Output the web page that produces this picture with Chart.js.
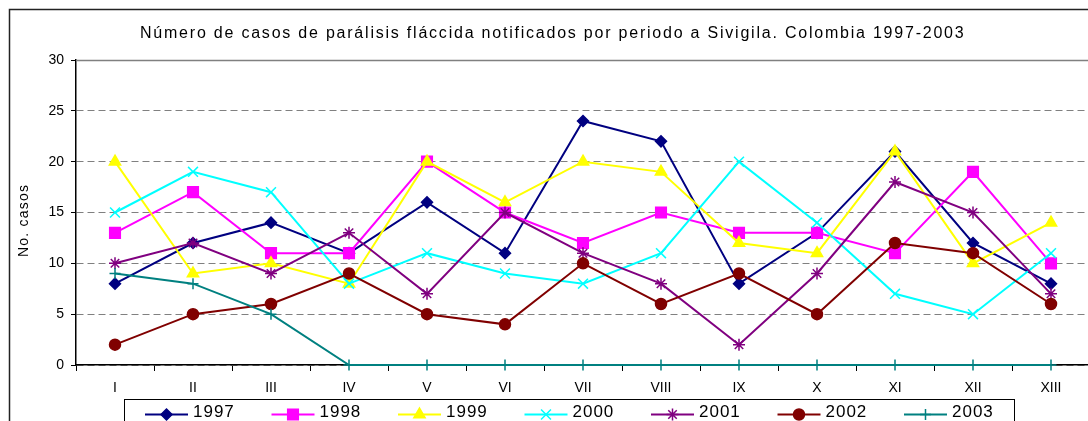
<!DOCTYPE html>
<html><head><meta charset="utf-8">
<script src="https://cdn.jsdelivr.net/npm/chart.js"></script>
<style>
html,body{margin:0;padding:0;background:#fff;overflow:hidden;}
#wrap{width:1088px;height:421px;overflow:hidden;position:relative;}
canvas{display:block;}
</style></head>
<body>
<div id="wrap"><canvas id="c" width="1110" height="440" style="width:1110px;height:440px"></canvas></div>
<script>
const titleText = 'Número de casos de parálisis fláccida notificados por periodo a Sivigila. Colombia 1997-2003';
const yAxisTitle = 'No. casos';
const periods = ['I','II','III','IV','V','VI','VII','VIII','IX','X','XI','XII','XIII'];
const yTicks = [0,5,10,15,20,25,30];
const years = ['1997','1998','1999','2000','2001','2002','2003'];
const s1997 = [8,12,14,11,16,11,24,22,8,13,21,12,8];
const s1998 = [13,17,11,11,20,15,12,15,13,13,11,19,10];
const s1999 = [20,9,10,8,20,16,20,19,12,11,21,10,14];
const s2000 = [15,19,17,8,11,9,8,11,20,14,7,5,11];
const s2001 = [10,12,9,13,7,15,11,8,2,9,18,15,7];
const s2002 = [2,5,6,9,5,4,10,6,9,5,12,11,6];
const s2003 = [9,8,5,0,0,0,0,0,0,0,0,0,0];
const seriesData = [s1997,s1998,s1999,s2000,s2001,s2002,s2003];
const colors = ['#000080','#FF00FF','#FFFF00','#00FFFF','#800080','#800000','#008080'];
const markers = ['rectRot','rect','triangle','crossRot','star','circle','cross'];
const radii = [5.5,7.5,6.5,7,6,5.5,5.5];

const FONT = '"Liberation Sans", Arial, sans-serif';

const datasets = years.map((y,i)=>({
  label: y,
  data: seriesData[i],
  borderColor: colors[i],
  backgroundColor: colors[i],
  borderWidth: 2,
  pointStyle: markers[i],
  pointRadius: radii[i],
  pointBorderWidth: 1.5,
  pointBackgroundColor: colors[i],
  pointBorderColor: colors[i],
  tension: 0,
  clip: false,
  order: years.length - i
}));

function fallbackPoint(ctx, style, r, x, y){
  ctx.beginPath();
  if (style==='circle'){ctx.arc(x,y,r,0,Math.PI*2);ctx.fill();return;}
  if (style==='rect'){const h=r*Math.SQRT1_2;ctx.fillRect(x-h,y-h,2*h,2*h);return;}
  if (style==='rectRot'){ctx.moveTo(x-r,y);ctx.lineTo(x,y-r);ctx.lineTo(x+r,y);ctx.lineTo(x,y+r);ctx.closePath();ctx.fill();return;}
  if (style==='triangle'){ctx.moveTo(x,y-r);ctx.lineTo(x+r*0.866,y+r*0.5);ctx.lineTo(x-r*0.866,y+r*0.5);ctx.closePath();ctx.fill();return;}
  const d=r*Math.SQRT1_2;
  if (style==='cross'||style==='star'){ctx.moveTo(x-r,y);ctx.lineTo(x+r,y);ctx.moveTo(x,y-r);ctx.lineTo(x,y+r);}
  if (style==='crossRot'||style==='star'){ctx.moveTo(x-d,y-d);ctx.lineTo(x+d,y+d);ctx.moveTo(x+d,y-d);ctx.lineTo(x-d,y+d);}
  ctx.stroke();
}

function spacedText(ctx, text, cx, y, targetW){
  const w0=ctx.measureText(text).width;
  const has=('letterSpacing' in ctx);
  const ls=has?Math.max(0,(targetW-w0)/(text.length-1)):0;
  if (has) ctx.letterSpacing=ls.toFixed(2)+'px';
  const w1=w0+ls*(text.length-1);
  ctx.textAlign='left';
  ctx.fillText(text,cx-w1/2,y);
  if (has) ctx.letterSpacing='0px';
}

const deco = {
  id:'deco',
  beforeDraw(chart){
    const ctx=chart.ctx;
    ctx.save();ctx.fillStyle='#fff';ctx.fillRect(0,0,chart.width,chart.height);ctx.restore();
  },
  beforeDatasetsDraw(chart){
    const ctx=chart.ctx, a=chart.chartArea;
    ctx.save();
    ctx.strokeStyle='#808080';ctx.lineWidth=1.5;
    ctx.beginPath();ctx.moveTo(a.left,a.top+0.5);ctx.lineTo(a.right,a.top+0.5);ctx.stroke();
    ctx.restore();
  },
  afterDraw(chart){
    const ctx=chart.ctx;
    ctx.save();
    // outer frame
    ctx.strokeStyle='#222';ctx.lineWidth=1.5;
    ctx.strokeRect(9.5,9.5,1300,1000);
    // title
    ctx.fillStyle='#000';
    ctx.font='16px '+FONT;
    ctx.textBaseline='alphabetic';
    spacedText(ctx,titleText,552,37.5,824);
    // y axis title
    ctx.save();
    ctx.translate(28,221);
    ctx.rotate(-Math.PI/2);
    ctx.font='14px '+FONT;
    ctx.fillStyle='#000';
    spacedText(ctx,yAxisTitle,0,0,72);
    ctx.restore();
    // legend box
    ctx.strokeStyle='#000';ctx.lineWidth=1;
    ctx.strokeRect(124.5,399.5,890,60);
    chart.data.datasets.forEach((ds,i)=>{
      const x0=145+i*126.5, yl=414.5;
      ctx.strokeStyle=ds.borderColor;ctx.lineWidth=2;
      ctx.beginPath();ctx.moveTo(x0,yl);ctx.lineTo(x0+43,yl);ctx.stroke();
      ctx.fillStyle=ds.pointBackgroundColor;ctx.strokeStyle=ds.pointBorderColor;ctx.lineWidth=1.5;
      if (Chart.helpers && Chart.helpers.drawPoint){
        Chart.helpers.drawPoint(ctx,{pointStyle:ds.pointStyle,radius:ds.pointRadius,rotation:0,borderWidth:1.5},x0+21.5,yl);
      } else {
        fallbackPoint(ctx,ds.pointStyle,ds.pointRadius,x0+21.5,yl);
      }
      ctx.fillStyle='#000';
      ctx.font='17px '+FONT;
      if ('letterSpacing' in ctx){ctx.letterSpacing='1px';}
      ctx.textAlign='left';ctx.textBaseline='alphabetic';
      ctx.fillText(ds.label,x0+48,416.7);
      if ('letterSpacing' in ctx){ctx.letterSpacing='0px';}
    });
    ctx.restore();
  }
};

new Chart(document.getElementById('c'),{
  type:'line',
  data:{labels:periods,datasets},
  plugins:[deco],
  options:{
    responsive:false,
    devicePixelRatio:1,
    animation:false,
    events:[],
    layout:{padding:{left:10,right:20,top:60,bottom:35}},
    plugins:{legend:{display:false},title:{display:false},tooltip:{enabled:false}},
    scales:{
      x:{
        type:'category',
        offset:true,
        afterFit(s){s.height=40;},
        grid:{display:true,drawOnChartArea:false,drawTicks:true,tickLength:6,offset:true,color:'#000',tickColor:'#000',lineWidth:1},
        border:{display:true,color:'#000',width:1.5},
        ticks:{color:'#000',font:{family:FONT,size:14},padding:9,maxRotation:0,autoSkip:false}
      },
      y:{
        min:0,max:30,
        afterFit(s){s.width=66;},
        afterBuildTicks(s){s.ticks=yTicks.map(v=>({value:v}));},
        grid:{display:true,drawOnChartArea:true,drawTicks:true,tickLength:5,color:'#808080',tickColor:'#000',lineWidth:1,borderDash:[7,4]},
        border:{display:true,color:'#000',width:1.5,dash:[7,4]},
        ticks:{color:'#000',font:{family:FONT,size:14},padding:7},
        title:{display:false}
      }
    }
  }
});
</script>
</body></html>
